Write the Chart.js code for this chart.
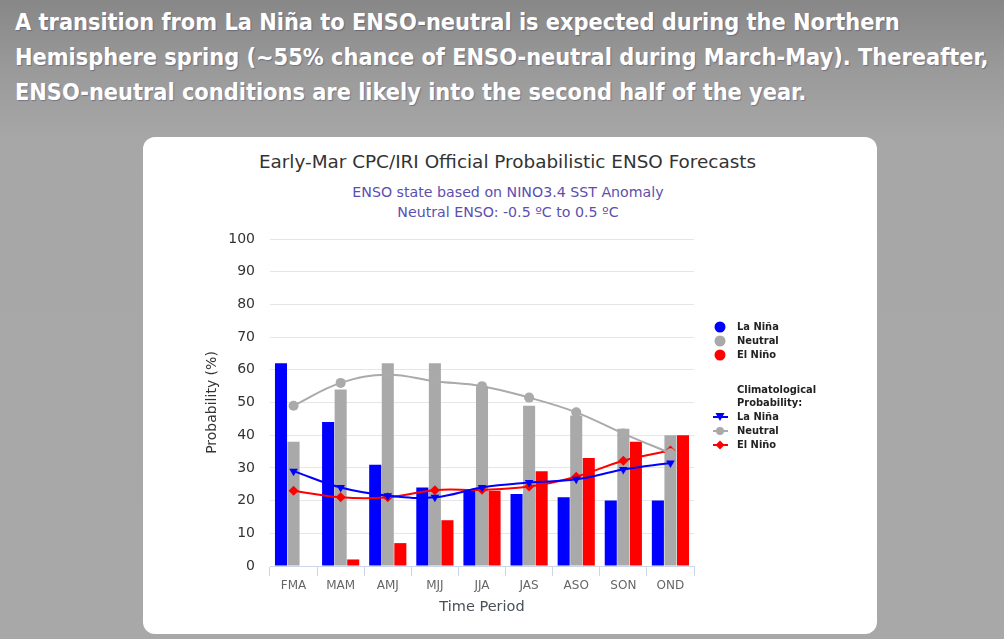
<!DOCTYPE html>
<html>
<head>
<meta charset="utf-8">
<script src="https://cdn.jsdelivr.net/npm/chart.js@4.4.1/dist/chart.umd.min.js"></script>
<style>
  html, body { margin: 0; padding: 0; }
  body {
    width: 1004px; height: 639px; overflow: hidden; position: relative;
    background: linear-gradient(to bottom, #878787 0px, #9a9a9a 70px, #a7a7a7 140px, #a8a8a8 100%);
    font-family: "DejaVu Sans", sans-serif;
  }
  #headline {
    position: absolute; left: 15px; top: 4px; width: 990px;
    color: #ffffff; font-family: "DejaVu Sans Condensed", "DejaVu Sans", sans-serif;
    font-weight: bold; font-size: 23.3px; line-height: 35px;
    text-shadow: 1px 1px 1px rgba(40,40,80,0.35);
    white-space: nowrap;
  }
  #card {
    position: absolute; left: 143px; top: 137px; width: 734px; height: 497px;
    background: #ffffff; border-radius: 12px;
  }
  #title {
    position: absolute; left: 0; top: 150px; width: 1015px; text-align: center;
    color: #333333; font-size: 18.4px; line-height: 24px;
  }
  #subtitle {
    position: absolute; left: 0; top: 182px; width: 1016px; text-align: center;
    color: #5b4fae; font-size: 14.2px; line-height: 20px;
  }
  #chartbox { position: absolute; left: 143px; top: 137px; width: 734px; height: 497px; }
  #legend {
    position: absolute; left: 710px; top: 319px; font-size: 11px; font-weight: bold; color: #222;
    font-family: "DejaVu Sans Condensed", "DejaVu Sans", sans-serif;
  }
  .li { position: absolute; left: 0; height: 14px; line-height: 14px; white-space: nowrap; }
  .li svg { position: absolute; left: 0; top: 0; }
  .li span { position: absolute; left: 27px; top: 0; }
  .hd { position: absolute; left: 27px; line-height: 13px; white-space: nowrap; }
</style>
</head>
<body>
<div id="headline">A transition from La Niña to ENSO-neutral is expected during the Northern<br>Hemisphere spring (~55% chance of ENSO-neutral during March-May). Thereafter,<br>ENSO-neutral conditions are likely into the second half of the year.</div>
<div id="card"></div>
<div id="title">Early-Mar CPC/IRI Official Probabilistic ENSO Forecasts</div>
<div id="subtitle">ENSO state based on NINO3.4 SST Anomaly<br>Neutral ENSO: -0.5 ºC to 0.5 ºC</div>
<div id="chartbox"><canvas id="c"></canvas></div>
<div id="legend">
  <div class="li" style="top:1px"><svg width="22" height="14"><circle cx="10" cy="7" r="5.5" fill="#0000ff"/></svg><span>La Niña</span></div>
  <div class="li" style="top:15px"><svg width="22" height="14"><circle cx="10" cy="7" r="5.5" fill="#a9a9a9"/></svg><span>Neutral</span></div>
  <div class="li" style="top:29px"><svg width="22" height="14"><circle cx="10" cy="7" r="5.5" fill="#ff0000"/></svg><span>El Niño</span></div>
  <div class="hd" style="top:64px">Climatological<br>Probability:</div>
  <div class="li" style="top:91px"><svg width="22" height="14"><line x1="3" y1="7" x2="18" y2="7" stroke="#0000ff" stroke-width="2"/><polygon points="5.5,3 14.5,3 10,11" fill="#0000ff"/></svg><span>La Niña</span></div>
  <div class="li" style="top:105px"><svg width="22" height="14"><line x1="3" y1="7" x2="18" y2="7" stroke="#aaaaaa" stroke-width="2"/><circle cx="10" cy="7" r="4" fill="#aaaaaa"/></svg><span>Neutral</span></div>
  <div class="li" style="top:119px"><svg width="22" height="14"><line x1="3" y1="7" x2="18" y2="7" stroke="#ff0000" stroke-width="2"/><polygon points="10,2.5 14.5,7 10,11.5 5.5,7" fill="#ff0000"/></svg><span>El Niño</span></div>
</div>
<script>
const categories = ['FMA','MAM','AMJ','MJJ','JJA','JAS','ASO','SON','OND'];
const laNina  = [62, 44, 31, 24, 23, 22, 21, 20, 20];
const neutral = [38, 54, 62, 62, 55, 49, 46, 42, 40];
const elNino  = [0, 2, 7, 14, 23, 29, 33, 38, 40];
const climLaNina  = [29, 24, 21.5, 21, 24, 25.5, 26.5, 29.5, 31.5];
const climNeutral = [49, 56, 58.5, 56.5, 55, 51.5, 47, 40.5, 34.5];
const climElNino  = [23, 21, 21, 23.2, 23.3, 24.3, 27.3, 32.2, 35.3];
const yTicks = [0,10,20,30,40,50,60,70,80,90,100];

const LEFT_PAD = 57, Y_WIDTH = 70, X_HEIGHT = 54, BOTTOM_PAD = 14;

new Chart(document.getElementById('c'), {
  type: 'bar',
  data: {
    labels: categories,
    datasets: [
      { type: 'line', label: 'Clim La Niña', data: climLaNina, order: 0,
        borderColor: '#0000ff', backgroundColor: '#0000ff', borderWidth: 2, tension: 0.4,
        pointStyle: 'triangle', rotation: 180, pointRadius: 5, pointBorderWidth: 0 },
      { type: 'line', label: 'Clim Neutral', data: climNeutral, order: 0,
        borderColor: '#aaaaaa', backgroundColor: '#aaaaaa', borderWidth: 2, tension: 0.4,
        pointStyle: 'circle', pointRadius: 5, pointBorderWidth: 0 },
      { type: 'line', label: 'Clim El Niño', data: climElNino, order: 0,
        borderColor: '#ff0000', backgroundColor: '#ff0000', borderWidth: 2, tension: 0.4,
        pointStyle: 'rectRot', pointRadius: 5, pointBorderWidth: 0 },
      { label: 'La Niña', data: laNina, backgroundColor: '#0000ff', order: 1,
        categoryPercentage: 0.8, barPercentage: 0.96 },
      { label: 'Neutral', data: neutral, backgroundColor: '#a9a9a9', order: 1,
        categoryPercentage: 0.8, barPercentage: 0.96 },
      { label: 'El Niño', data: elNino, backgroundColor: '#ff0000', order: 1,
        categoryPercentage: 0.8, barPercentage: 0.96 }
    ]
  },
  options: {
    responsive: true, maintainAspectRatio: false, animation: false,
    layout: { padding: { left: LEFT_PAD, right: 183, top: 102, bottom: BOTTOM_PAD } },
    plugins: { legend: { display: false }, tooltip: { enabled: false } },
    scales: {
      x: {
        grid: { drawOnChartArea: false, drawTicks: true, tickLength: 10, color: '#ccd6eb', offset: true },
        border: { display: true, color: '#ccd6eb', width: 1 },
        ticks: { color: '#666666', font: { family: 'DejaVu Sans', size: 12 }, padding: 3 },
        title: { display: true, text: 'Time Period', color: '#4a5058',
                 font: { family: 'DejaVu Sans', size: 14.5 }, padding: { top: 4, bottom: 4 } },
        afterFit: s => { s.height = X_HEIGHT; }
      },
      y: {
        min: 0, max: 100,
        afterBuildTicks: s => { s.ticks = yTicks.map(v => ({ value: v })); },
        grid: { color: '#e6e6e6', drawTicks: false },
        border: { display: false },
        ticks: { color: '#333333', font: { family: 'DejaVu Sans', size: 14 }, padding: 15 },
        title: { display: true, text: 'Probability (%)', color: '#333333',
                 font: { family: 'DejaVu Sans', size: 14 }, padding: { top: 4, bottom: 4 } },
        afterFit: s => { s.width = Y_WIDTH; }
      }
    }
  }
});
</script>
</body>
</html>
